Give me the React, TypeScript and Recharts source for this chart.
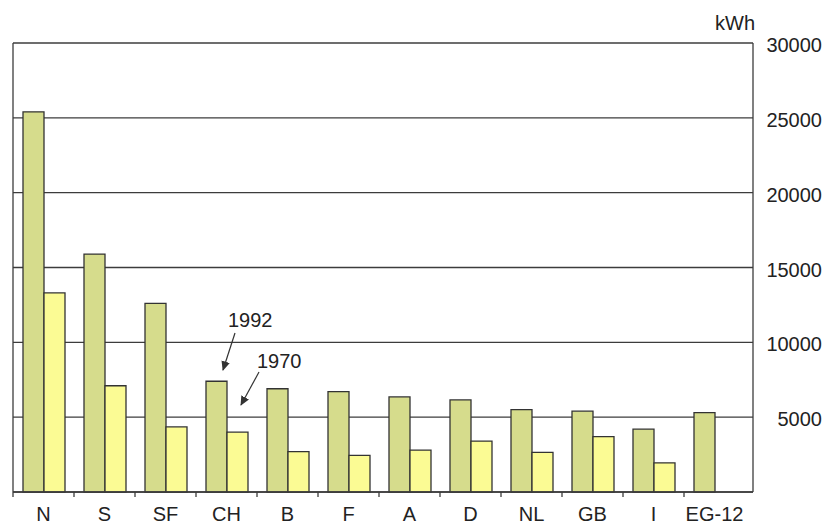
import { BarChart, Bar, XAxis, YAxis, CartesianGrid } from 'recharts';

const countries = ['N', 'S', 'SF', 'CH', 'B', 'F', 'A', 'D', 'NL', 'GB', 'I', 'EG-12'];
const kwh1992 = [25400, 15900, 12600, 7400, 6900, 6700, 6350, 6150, 5500, 5400, 4200, 5300];
const kwh1970 = [13300, 7100, 4350, 4000, 2700, 2450, 2800, 3400, 2650, 3700, 1950, null];
const yTicks = [0, 5000, 10000, 15000, 20000, 25000, 30000];

const data = countries.map((c, i) => ({ name: c, y1992: kwh1992[i], y1970: kwh1970[i] }));

const W = 825;
const H = 526;
const LEFT_W = 13;
const RIGHT_W = 72;
const PAD_R = 8;
const BAND = (W - LEFT_W - RIGHT_W - PAD_R) / countries.length;
const FONT = '"Liberation Sans", Arial, Helvetica, sans-serif';
const INK = '#3c3c3c';

function CountryTick(props: any) {
  const { x, y, payload } = props;
  const left = x - BAND / 2;
  return (
    <g>
      <line x1={left} y1={y} x2={left} y2={y + 5} stroke={INK} strokeWidth={1.3} />
      <text x={x} y={y + 29} textAnchor="middle" fontSize={20} fill="#222" fontFamily={FONT}>
        {payload.value}
      </text>
    </g>
  );
}

function ValueTick(props: any) {
  const { y, payload } = props;
  if (payload.value === 0) return null;
  return (
    <text x={822} y={y + 9} textAnchor="end" fontSize={20} fill="#222" fontFamily={FONT}>
      {payload.value}
    </text>
  );
}

export default function App() {
  return (
    <div style={{ position: 'absolute', left: 0, top: 0, width: W, height: H, background: '#fff' }}>
      <BarChart
        width={W}
        height={H}
        data={data}
        margin={{ top: 43, right: 0, bottom: 0, left: 0 }}
        barCategoryGap={10}
        barGap={0}
      >
        <CartesianGrid vertical={false} stroke={INK} strokeWidth={1.3} yAxisId="r" />
        <XAxis
          dataKey="name"
          height={34}
          padding={{ left: 0, right: PAD_R }}
          tickLine={false}
          tickSize={0}
          tickMargin={0}
          axisLine={{ stroke: INK, strokeWidth: 1.3 }}
          tick={<CountryTick />}
          interval={0}
        />
        <YAxis
          yAxisId="l"
          orientation="left"
          width={LEFT_W}
          domain={[0, 30000]}
          ticks={yTicks}
          tickSize={5}
          tickFormatter={() => ''}
          tickLine={{ stroke: INK, strokeWidth: 1.3 }}
          axisLine={{ stroke: INK, strokeWidth: 1.3 }}
        />
        <YAxis
          yAxisId="r"
          orientation="right"
          width={RIGHT_W}
          domain={[0, 30000]}
          ticks={yTicks}
          tickLine={false}
          axisLine={{ stroke: INK, strokeWidth: 1.3 }}
          tick={<ValueTick />}
          interval={0}
        />
        <Bar yAxisId="r" dataKey="y1992" fill="#d6dc8c" stroke="#333" strokeWidth={1.3} isAnimationActive={false} />
        <Bar yAxisId="r" dataKey="y1970" fill="#fbfb94" stroke="#333" strokeWidth={1.3} isAnimationActive={false} />
      </BarChart>
      <svg
        width={W}
        height={H}
        style={{ position: 'absolute', left: 0, top: 0, pointerEvents: 'none' }}
        fontFamily={FONT}
      >
        <defs>
          <marker id="head" viewBox="0 0 10 10" refX="9" refY="5" markerWidth="8" markerHeight="8" orient="auto">
            <path d="M0,0.5 L10,5 L0,9.5 Z" fill="#333" />
          </marker>
        </defs>
        <text x={735} y={30} textAnchor="middle" fontSize={20} fill="#222">kWh</text>
        <text x={228} y={327} fontSize={20} fill="#222">1992</text>
        <line x1={235} y1={333} x2={223} y2={370} stroke="#333" strokeWidth={1.2} markerEnd="url(#head)" />
        <text x={257} y={368} fontSize={20} fill="#222">1970</text>
        <line x1={259} y1={372} x2={241} y2={405} stroke="#333" strokeWidth={1.2} markerEnd="url(#head)" />
      </svg>
    </div>
  );
}
